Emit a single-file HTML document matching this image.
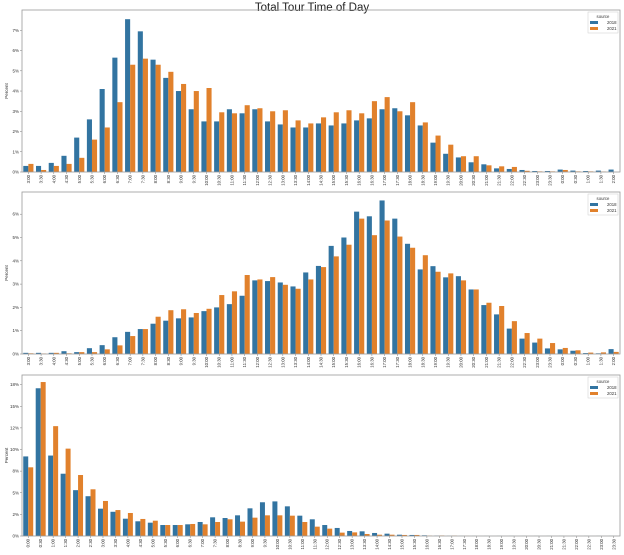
<!DOCTYPE html>
<html><head><meta charset="utf-8">
<style>html,body{margin:0;padding:0;background:#fff;width:624px;height:555px;overflow:hidden}svg{display:block}</style>
</head><body>
<svg id="s" width="624" height="555" xmlns="http://www.w3.org/2000/svg" font-family="Liberation Sans, sans-serif">
<text x="312" y="11" font-size="11.5" text-anchor="middle" fill="#222">Total Tour Time of Day</text>
</svg>
<script>
const S=document.getElementById('s'),NS='http://www.w3.org/2000/svg';
function el(t,a,txt){const e=document.createElementNS(NS,t);for(const k in a)e.setAttribute(k,a[k]);if(txt!=null)e.textContent=txt;S.appendChild(e);return e;}
function cats(startH,n){const r=[];let m=startH*60;for(let i=0;i<n;i++){const h=Math.floor(m/60)%24,mm=m%60;r.push(h+':'+(mm?'30':'00'));m+=30;}return r;}
const d1=[[.3,.4],[.3,.1],[.45,.3],[.8,.4],[1.7,.7],[2.6,1.6],[4.1,2.2],[5.65,3.45],[7.55,5.3],[6.95,5.6],[5.55,5.3],[4.65,4.95],[4,4.35],[3.1,4],[2.5,4.15],[2.5,2.95],[3.1,2.9],[2.9,3.3],[3.1,3.15],[2.5,3],[2.35,3.05],[2.2,2.55],[2.2,2.4],[2.4,2.7],[2.3,2.95],[2.4,3.05],[2.55,2.9],[2.65,3.5],[3.1,3.7],[3.15,3],[2.8,3.45],[2.3,2.45],[1.45,1.8],[.9,1.35],[.72,.78],[.48,.78],[.38,.33],[.18,.28],[.15,.25],[.1,.06],[.05,.03],[.05,.03],[.12,.1],[.07,.03],[.05,.03],[.07,.02],[.12,0]];
const d2=[[.05,.03],[.05,.02],[.05,.05],[.12,.03],[.08,.08],[.25,.08],[.38,.2],[.72,.37],[.95,.77],[1.07,1.07],[1.3,1.6],[1.43,1.88],[1.53,1.92],[1.57,1.76],[1.84,1.94],[2,2.53],[2.14,2.69],[2.5,3.39],[3.16,3.2],[3.13,3.3],[3.07,2.97],[2.9,2.8],[3.5,3.2],[3.78,3.73],[4.64,4.19],[5,4.69],[6.11,5.81],[5.91,5.1],[6.59,5.73],[5.81,5.04],[4.73,4.56],[3.63,4.24],[3.77,3.53],[3.29,3.46],[3.34,3.16],[2.77,2.77],[2.1,2.2],[1.7,2.06],[1.09,1.41],[.66,.9],[.49,.66],[.24,.47],[.2,.26],[.14,.16],[.04,.06],[.03,.07],[.21,.09]];
const d3=[[9.2,7.94],[17.08,17.8],[9.3,12.7],[7.2,10.1],[5.3,7.05],[4.6,5.4],[3.16,4.05],[2.8,3],[2,2.66],[1.7,1.97],[1.54,1.77],[1.27,1.27],[1.27,1.27],[1.35,1.39],[1.62,1.35],[2.16,1.62],[2.08,1.93],[2.39,1.66],[3.2,2.12],[3.9,2.39],[4,2.39],[3.43,2.35],[2.35,1.62],[1.93,1.08],[1.27,.85],[.93,.39],[.58,.42],[.54,.23],[.35,.15],[.27,.15],[.15,.12],[.12,.12],[.08,.04],[.04,.06],[.02,.04],[.01,.01],[.01,0],[.01,0],[.01,0],[.01,0],[.01,0],[.01,0],[.01,0],[.01,0],[.01,0],[.01,0],[.01,0],[.01,0]];
function panel(L,R,T,B,sc,data,labels,ticks,tl){
 const n=data.length,w=(R-L)/n;
 data.forEach((p,i)=>{const c=L+w*(i+.5),bw=w*.4;
  el('rect',{x:c-bw,y:B-p[0]*sc,width:bw,height:p[0]*sc,fill:'#3274a1'});
  el('rect',{x:c,y:B-p[1]*sc,width:bw,height:p[1]*sc,fill:'#e1812c'});
  el('line',{x1:c,x2:c,y1:B,y2:B+2,stroke:'#555','stroke-width':.4});
  el('text',{x:0,y:0,'font-size':4.3,'text-anchor':'end',fill:'#333',transform:`translate(${c+1.5},${B+3}) rotate(-90)`},labels[i]);
 });
 ticks.forEach((t,j)=>{const y=B-t*sc;el('line',{x1:L-2,x2:L,y1:y,y2:y,stroke:'#555','stroke-width':.4});
  el('text',{x:L-3,y:y+1.5,'font-size':4.5,'text-anchor':'end',fill:'#333'},tl[j]);});
 el('rect',{x:L,y:T,width:R-L,height:B-T,fill:'none',stroke:'#999','stroke-width':.8});
 el('text',{x:0,y:0,'font-size':4.5,'text-anchor':'middle',fill:'#333',transform:`translate(8,${(T+B)/2}) rotate(-90)`},'Percent');
 const lx=R-32,ly=T+2;
 el('rect',{x:lx,y:ly,width:30,height:21,fill:'#fff',stroke:'#ccc','stroke-width':.5});
 el('text',{x:lx+15,y:ly+6,'font-size':4.3,'text-anchor':'middle',fill:'#333'},'source');
 el('rect',{x:lx+2,y:ly+9,width:8,height:3,fill:'#3274a1'});
 el('text',{x:lx+19,y:ly+12,'font-size':4.3,fill:'#333'},'2018');
 el('rect',{x:lx+2,y:ly+15,width:8,height:3,fill:'#e1812c'});
 el('text',{x:lx+19,y:ly+18,'font-size':4.3,fill:'#333'},'2021');
}
panel(22,620,10,172,20.24,d1,cats(3,47),[0,1,2,3,4,5,6,7],['0%','1%','2%','3%','4%','5%','6%','7%']);
panel(22,620,192,354,23.3,d2,cats(3,47),[0,1,2,3,4,5,6],['0%','1%','2%','3%','4%','5%','6%']);
panel(22,620,375,536,8.65,d3,cats(0,48),[0,2.5,5,7.5,10,12.5,15,17.5],['0%','2%','5%','8%','10%','12%','15%','18%']);
</script>
</body></html>
